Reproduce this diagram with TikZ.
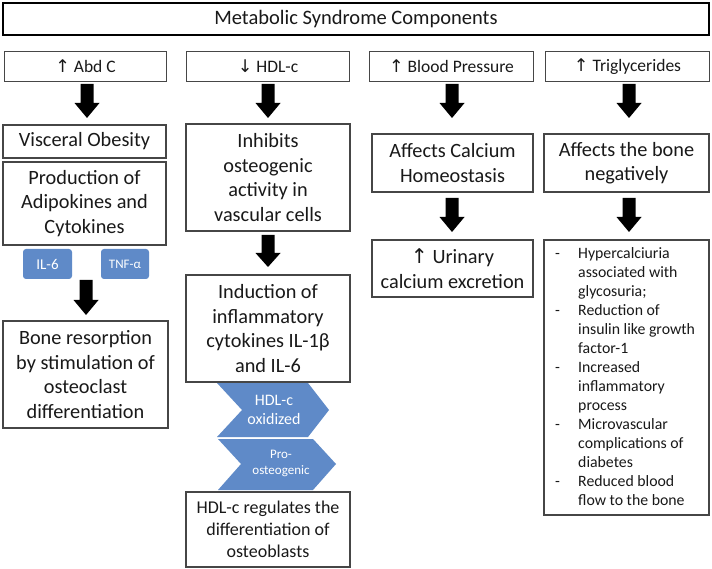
\documentclass[tikz,border=0pt]{standalone}
\usepackage{fontspec}
\setmainfont{Carlito}
\newfontfamily\symfont{DejaVu Sans}
\definecolor{boxline}{RGB}{70,70,70}
\definecolor{chipblue}{RGB}{95,138,200}
\definecolor{txt}{RGB}{25,25,25}
\newcommand{\upar}{{\symfont ↑}}
\newcommand{\downar}{{\symfont ↓}}
\newcommand{\blkarrow}[4]{\fill[black] (#1-6.5,#2) -- (#1+6.5,#2) -- (#1+6.5,#3) -- (#1+12.5,#3) -- (#1,#4) -- (#1-12.5,#3) -- (#1-6.5,#3) -- cycle;}
\begin{document}
\begin{tikzpicture}[x=1pt,y=-1pt,
  box/.style={draw=boxline, line width=1.2pt, fill=white, align=center, inner sep=0pt, text=txt, font=\fontsize{20.3}{24.5}\selectfont},
  hdr/.style={box, minimum height=30, font=\fontsize{17.5}{21}\selectfont},
  chip/.style={fill=chipblue, rounded corners=3pt, text=white, inner sep=0pt, minimum height=30},
  chevtext/.style={text=white, align=center, inner sep=0pt}]
\useasboundingbox (0,0) rectangle (712,569);
\fill[white] (0,0) rectangle (712,569);
% title
\node[box, minimum width=706, minimum height=32, line width=2.2pt, draw=black] (title) at (356,19) {\fontsize{20.5}{22}\selectfont Metabolic Syndrome Components};
% headers
\node[hdr, minimum width=162] (hA) at (85.5,66.5) {\upar{} Abd C};
\node[hdr, minimum width=163] (hB) at (268,66.5) {\downar{} HDL-c};
\node[hdr, minimum width=164] (hC) at (451.5,66.5) {\upar{} Blood Pressure};
\node[hdr, minimum width=164] (hD) at (627.5,66.5) {\upar{} Triglycerides};
% header arrows
\blkarrow{87}{84}{103}{118}
\blkarrow{268}{84}{103}{118}
\blkarrow{452}{84}{103}{118}
\blkarrow{629}{84}{103}{118}
% column 1
\node[box, minimum width=163, minimum height=33] (c1a) at (84.5,141.5) {Visceral Obesity};
\node[box, minimum width=163, minimum height=83] (c1b) at (84.5,203.5) {Production of\\Adipokines and\\Cytokines};
\node[chip, minimum width=49] (il6) at (47.5,264) {\fontsize{15}{17}\selectfont IL-6};
\node[chip, minimum width=48] (tnf) at (125,264) {\fontsize{13}{15}\selectfont TNF-α};
\blkarrow{86}{280}{300}{315}
\node[box, minimum width=165, minimum height=107] (c1c) at (85.5,374.5) {Bone resorption\\by stimulation of\\osteoclast\\differentiation};
% column 2
\node[box, minimum width=164, minimum height=107] (c2a) at (268,177.5) {Inhibits\\osteogenic\\activity in\\vascular cells};
\blkarrow{268}{235}{253}{267}
\node[box, minimum width=164, minimum height=107] (c2b) at (268,328.5) {Induction of\\inflammatory\\cytokines IL-1β\\and IL-6};
\fill[chipblue] (217,383) -- (308,383) -- (329,410) -- (308,437) -- (217,437) -- (242,410) -- cycle;
\node[chevtext, font=\fontsize{16}{19}\selectfont] (ox) at (274,410) {HDL-c\\oxidized};
\fill[chipblue] (218,439) -- (313,439) -- (336,464) -- (313,490) -- (218,490) -- (241,464) -- cycle;
\node[chevtext, font=\fontsize{13}{16}\selectfont] (pro) at (281,463) {Pro-\\osteogenic};
\node[box, minimum width=164, minimum height=75, font=\fontsize{18}{22}\selectfont] (c2c) at (268,529.5) {HDL-c regulates the\\differentiation of\\osteoblasts};
% column 3
\node[box, minimum width=161, minimum height=58] (c3a) at (452.5,163) {Affects Calcium\\Homeostasis};
\blkarrow{452}{198}{217}{232}
\node[box, minimum width=161, minimum height=57] (c3b) at (452.5,268.5) {\upar{} Urinary\\calcium excretion};
% column 4
\node[box, minimum width=165, minimum height=58] (c4a) at (626.5,163) {Affects the bone\\negatively};
\blkarrow{629}{198}{217}{232}
\node[box, minimum width=165, minimum height=275] (c4b) at (626.5,377.5) {};
\node[anchor=north west, inner sep=0pt, text=txt, font=\fontsize{15.8}{19}\selectfont, align=left] (list) at (555,245)
{\begin{tabular}{@{}p{23pt}@{}l@{}}
-& Hypercalciuria\\
 & associated with\\
 & glycosuria;\\
-& Reduction of\\
 & insulin like growth\\
 & factor-1\\
-& Increased\\
 & inflammatory\\
 & process\\
-& Microvascular\\
 & complications of\\
 & diabetes\\
-& Reduced blood\\
 & flow to the bone
\end{tabular}};
\end{tikzpicture}
\end{document}
